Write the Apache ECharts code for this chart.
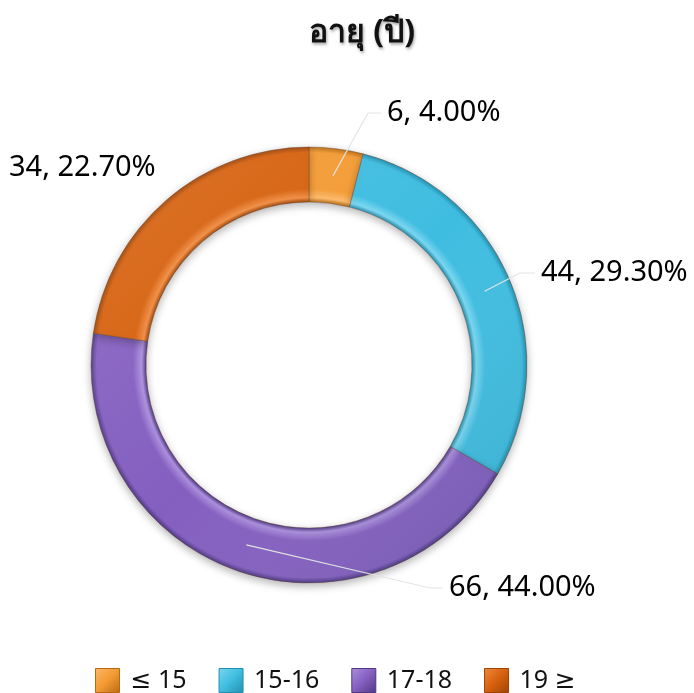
<!DOCTYPE html>
<html>
<head>
<meta charset="utf-8">
<script src="https://cdn.jsdelivr.net/npm/echarts@6/dist/echarts.min.js"></script>
<style>
html,body{margin:0;padding:0;background:#fff;}
#main{width:694px;height:693px;}
</style>
</head>
<body>
<div id="main"></div>
<script>
// ข้อมูล
var categories = ['≤ 15', '15-16', '17-18', '19 ≥'];
var counts = [6, 44, 66, 34];
var total = counts.reduce(function(a, b){ return a + b; }, 0);

var baseColors = ['#F39A33', '#3FBDE0', '#845FC0', '#D6600D'];
var lightColors = ['#FDB868', '#79D6F0', '#AC8FDD', '#F08A3E'];
var darkColors = ['#B86A12', '#238FAE', '#4F3882', '#9C4306'];

var cx = 309, cy = 365, rIn = 163, rOut = 218;

// ตำแหน่งป้าย (ซ้าย, กลาง) และจุดหักเส้นนำ
var labelPos = [[387, 113], [541, 273], [449, 588], [9, 168]];
var labelBend = [[368, 113], [520, 273], [430, 588], null];

function pctText(v){
	return (v / total * 100).toFixed(1) + '0%';
}

function ringGradient(i){
	var k = rIn / rOut;
	return new echarts.graphic.RadialGradient(cx, cy, rOut, [
		{offset: k, color: darkColors[i]},
		{offset: k + 0.02, color: lightColors[i]},
		{offset: k + 0.06, color: baseColors[i]},
		{offset: 0.975, color: baseColors[i]},
		{offset: 1, color: darkColors[i]}
	], true);
}

function iconGradient(i){
	return new echarts.graphic.LinearGradient(0, 0, 1, 1, [
		{offset: 0, color: lightColors[i]},
		{offset: 0.5, color: baseColors[i]},
		{offset: 1, color: darkColors[i]}
	]);
}

// แสงจากมุมซ้ายบน
var lightOverlay = new echarts.graphic.LinearGradient(cx - rOut, cy - rOut, cx + rOut, cy + rOut, [
	{offset: 0, color: 'rgba(255,255,255,0.12)'},
	{offset: 0.5, color: 'rgba(255,255,255,0)'},
	{offset: 1, color: 'rgba(0,40,60,0.16)'}
], true);

// จุดกึ่งกลางวงแหวนของแต่ละชิ้น
function midPoint(idx){
	var before = 0;
	for(var j = 0; j < idx; j++){ before += counts[j]; }
	var frac = (before + counts[idx] / 2) / total;
	var ang = frac * Math.PI * 2;
	var rm = (rIn + rOut) / 2;
	return [cx + rm * Math.sin(ang), cy - rm * Math.cos(ang)];
}

var pieData = [];
var overlayData = [];
var legendData = [];
for(var i = 0; i < categories.length; i++){
	pieData.push({
		name: categories[i],
		value: counts[i],
		itemStyle: {color: ringGradient(i)}
	});
	overlayData.push({
		name: 'o' + i,
		value: counts[i],
		labelLine: {show: labelBend[i] != null}
	});
	legendData.push({
		name: categories[i],
		itemStyle: {color: iconGradient(i), borderColor: darkColors[i], borderWidth: 1}
	});
}

var myChart = echarts.init(document.getElementById('main'));
var option = {
	backgroundColor: '#fff',
	animation: false,
	title: {
		text: 'อายุ (ปี)',
		left: 304,
		top: 12,
		textStyle: {
			fontFamily: "'Noto Sans', 'DejaVu Sans', sans-serif",
			fontSize: 32,
			fontWeight: 'bold',
			color: '#111',
			textShadowColor: 'rgba(0,0,0,0.35)',
			textShadowBlur: 3,
			textShadowOffsetX: 1,
			textShadowOffsetY: 2
		}
	},
	legend: {
		top: 663,
		left: 90,
		itemWidth: 24,
		itemHeight: 24,
		itemGap: 32,
		icon: 'rect',
		data: legendData,
		textStyle: {
			fontFamily: "'Noto Sans', 'DejaVu Sans', sans-serif",
			fontSize: 25,
			color: '#111',
			padding: [0, 0, 0, 6]
		}
	},
	series: [
		{
			type: 'pie',
			center: [cx, cy],
			radius: [rIn, rOut],
			startAngle: 90,
			clockwise: true,
			label: {show: false},
			labelLine: {show: false},
			itemStyle: {
				borderColor: 'rgba(90,50,20,0.6)',
				borderWidth: 0.6,
				shadowBlur: 8,
				shadowColor: 'rgba(0,0,0,0.3)',
				shadowOffsetY: 3
			},
			emphasis: {disabled: true},
			data: pieData,
			z: 2
		},
		{
			// ชั้นแสงเงา + ป้ายข้อมูล
			type: 'pie',
			silent: true,
			center: [cx, cy],
			radius: [rIn, rOut],
			startAngle: 90,
			clockwise: true,
			avoidLabelOverlap: false,
			itemStyle: {color: lightOverlay, borderWidth: 0},
			label: {
				show: true,
				position: 'outside',
				formatter: function(p){
					return p.value + ', ' + pctText(p.value);
				},
				fontFamily: "'Noto Sans', 'DejaVu Sans', sans-serif",
				fontSize: 29,
				color: '#000'
			},
			labelLine: {
				show: true,
				showAbove: true,
				lineStyle: {color: '#e4e4e4', width: 1.2}
			},
			labelLayout: function(params){
				var idx = params.dataIndex;
				var res = {
					x: labelPos[idx][0],
					y: labelPos[idx][1],
					align: 'left',
					verticalAlign: 'middle'
				};
				if(labelBend[idx]){
					var s = midPoint(idx);
					res.labelLinePoints = [s, labelBend[idx], [labelPos[idx][0] - 6, labelPos[idx][1]]];
				}
				return res;
			},
			emphasis: {disabled: true},
			data: overlayData,
			z: 3
		}
	]
};
myChart.setOption(option);
</script>
</body>
</html>
